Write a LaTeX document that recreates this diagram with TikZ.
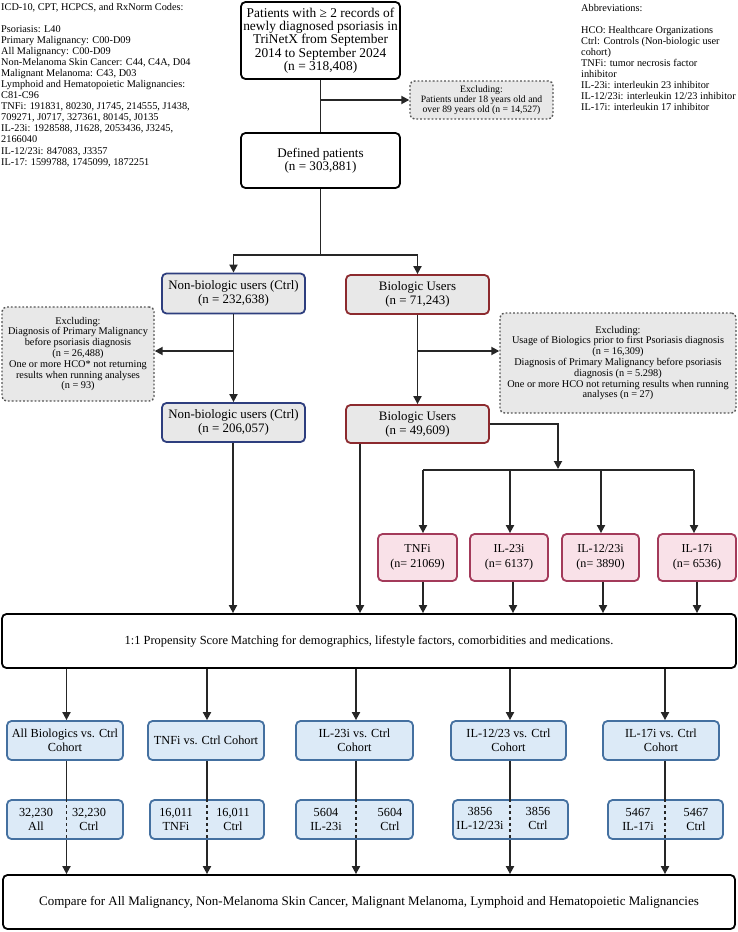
\documentclass[tikz,border=0pt]{standalone}
\usepackage{fontspec}
\setmainfont{Liberation Serif}
\usetikzlibrary{arrows.meta}

\definecolor{linec}{HTML}{262626}
\definecolor{greyfill}{HTML}{E8E8E8}
\definecolor{navyline}{HTML}{2E3E7E}
\definecolor{redline}{HTML}{8C2A2E}
\definecolor{pinkfill}{HTML}{F9E1E8}
\definecolor{pinkline}{HTML}{A33A5A}
\definecolor{bluefill}{HTML}{DCEAF7}
\definecolor{blueline}{HTML}{4470A0}
\definecolor{dotline}{HTML}{555555}

\begin{document}
\begin{tikzpicture}[x=1pt,y=-1pt,
  base/.style={rounded corners=4.5pt, align=center, inner sep=0pt, line width=1.8pt},
  blackbox/.style={base, draw=black, fill=white},
  excl/.style={base, draw=dotline, dotted, line width=1.4pt, fill=greyfill,
    font=\fontsize{10.3}{10.8}\selectfont},
  ctrlbox/.style={base, draw=navyline, fill=greyfill, font=\fontsize{12.9}{14}\selectfont},
  biobox/.style={base, draw=redline, fill=greyfill, font=\fontsize{12.9}{14}\selectfont},
  drugbox/.style={base, draw=pinkline, fill=pinkfill, font=\fontsize{12.1}{15}\selectfont},
  cohbox/.style={base, draw=blueline, fill=bluefill, font=\fontsize{12.3}{14}\selectfont},
  numtxt/.style={align=center, inner sep=0pt, font=\fontsize{12.3}{14}\selectfont},
  notes/.style={align=left, inner sep=0pt, anchor=north west, font=\fontsize{10.3}{11.05}\selectfont},
  conn/.style={draw=linec, line width=1.8pt},
  arr/.style={conn, -{Triangle[length=8pt,width=8pt]}},
  sep/.style={draw=linec, line width=1.8pt, dash pattern=on 3pt off 3pt}
]
\useasboundingbox (0,0) rectangle (738,932);

% side notes
\node[notes] (codes) at (1,3) {ICD-10, CPT, HCPCS, and RxNorm Codes:\\[11.05pt]
Psoriasis: L40\\
Primary Malignancy: C00-D09\\
All Malignancy: C00-D09\\
Non-Melanoma Skin Cancer: C44, C4A, D04\\
Malignant Melanoma: C43, D03\\
Lymphoid and Hematopoietic Malignancies:\\
C81-C96\\
TNFi: 191831, 80230, J1745, 214555, J1438,\\
709271, J0717, 327361, 80145, J0135\\
IL-23i: 1928588, J1628, 2053436, J3245,\\
2166040\\
IL-12/23i: 847083, J3357\\
IL-17: 1599788, 1745099, 1872251};

\node[notes] (abbr) at (581,4) {Abbreviations:\\[11pt]
HCO: Healthcare Organizations\\
Ctrl: Controls (Non-biologic user\\
cohort)\\
TNFi: tumor necrosis factor\\
inhibitor\\
IL-23i: interleukin 23 inhibitor\\
IL-12/23i: interleukin 12/23 inhibitor\\
IL-17i: interleukin 17 inhibitor};

% main flow
\node[blackbox, minimum width=159, minimum height=77, font=\fontsize{13.4}{13.3}\selectfont]
  (top) at (320.5,40.5) {Patients with ≥ 2 records of\\newly diagnosed psoriasis in\\TriNetX from September\\2014 to September 2024\\(n = 318,408)};
\node[excl, minimum width=143, minimum height=38, font=\fontsize{9.7}{10}\selectfont] (ex1) at (481.5,100)
  {Excluding:\\Patients under 18 years old and\\over 89 years old (n = 14,527)};
\node[blackbox, minimum width=159, minimum height=55, font=\fontsize{13.1}{13.3}\selectfont]
  (def) at (320.5,160.5) {Defined patients\\(n = 303,881)};

\node[ctrlbox, minimum width=143, minimum height=40] (nb1) at (233.5,293.5)
  {Non-biologic users (Ctrl)\\(n = 232,638)};
\node[biobox, minimum width=143, minimum height=39] (bio1) at (417.5,294.5)
  {Biologic Users\\(n = 71,243)};

\node[excl, minimum width=152, minimum height=94] (exL) at (78,354)
  {Excluding:\\Diagnosis of Primary Malignancy\\before psoriasis diagnosis\\(n = 26,488)\\One or more HCO* not returning\\results when running analyses\\(n = 93)};
\node[excl, minimum width=236, minimum height=100] (exR) at (618,363)
  {Excluding:\\Usage of Biologics prior to first Psoriasis diagnosis\\(n = 16,309)\\Diagnosis of Primary Malignancy before psoriasis\\diagnosis (n = 5.298)\\One or more HCO not returning results when running\\analyses (n = 27)};

\node[ctrlbox, minimum width=143, minimum height=39] (nb2) at (233.5,422.5)
  {Non-biologic users (Ctrl)\\(n = 206,057)};
\node[biobox, minimum width=143, minimum height=38] (bio2) at (417.5,424)
  {Biologic Users\\(n = 49,609)};

\node[drugbox, minimum width=79, minimum height=47] (tnf) at (417.5,557.5) {TNFi\\(n= 21069)};
\node[drugbox, minimum width=78, minimum height=47] (il23) at (509,557.5) {IL-23i\\(n= 6137)};
\node[drugbox, minimum width=77, minimum height=47] (il1223) at (600.5,557.5) {IL-12/23i\\(n= 3890)};
\node[drugbox, minimum width=78, minimum height=47] (il17) at (697,557.5) {IL-17i\\(n= 6536)};

\node[blackbox, minimum width=734, minimum height=54, font=\fontsize{12.4}{13}\selectfont]
  (match) at (369,641) {1:1 Propensity Score Matching for demographics, lifestyle factors, comorbidities and medications.};

% cohorts
\node[cohbox, minimum width=116, minimum height=39] (coh1) at (65,740.5) {All Biologics vs. Ctrl\\Cohort};
\node[cohbox, minimum width=116, minimum height=39] (coh2) at (206,740.5) {TNFi vs. Ctrl Cohort};
\node[cohbox, minimum width=117, minimum height=39] (coh3) at (354.5,740.5) {IL-23i vs. Ctrl\\Cohort};
\node[cohbox, minimum width=115, minimum height=39] (coh4) at (508.5,740.5) {IL-12/23 vs. Ctrl\\Cohort};
\node[cohbox, minimum width=116, minimum height=39] (coh5) at (661,740.5) {IL-17i vs. Ctrl\\Cohort};

\node[cohbox, minimum width=116, minimum height=39] (num1) at (65,819.5) {};
\node[cohbox, minimum width=114, minimum height=39] (num2) at (207,819.5) {};
\node[cohbox, minimum width=117, minimum height=39] (num3) at (354.5,819.5) {};
\node[cohbox, minimum width=115, minimum height=39] (num4) at (510.5,819.5) {};
\node[cohbox, minimum width=115, minimum height=39] (num5) at (665.5,819.5) {};

\node[numtxt] (n1a) at (36,819.5) {32,230\\All};
\node[numtxt] (n1b) at (89,819.5) {32,230\\Ctrl};
\node[numtxt] (n2a) at (176,819.5) {16,011\\TNFi};
\node[numtxt] (n2b) at (233,819.5) {16,011\\Ctrl};
\node[numtxt] (n3a) at (326,819.5) {5604\\IL-23i};
\node[numtxt] (n3b) at (390,819.5) {5604\\Ctrl};
\node[numtxt] (n4a) at (480,818.5) {3856\\IL-12/23i};
\node[numtxt] (n4b) at (538,818.5) {3856\\Ctrl};
\node[numtxt] (n5a) at (638,819.5) {5467\\IL-17i};
\node[numtxt] (n5b) at (696,819.5) {5467\\Ctrl};

\node[blackbox, minimum width=732, minimum height=54, font=\fontsize{13}{14}\selectfont]
  (fin) at (369,902) {Compare for All Malignancy, Non-Melanoma Skin Cancer, Malignant Melanoma, Lymphoid and Hematopoietic Malignancies};

% branch points
\coordinate (sp1) at (320.5,100);
\coordinate (sp2) at (320.5,255);
\coordinate (spL) at (233.5,351);
\coordinate (spR) at (417.5,351);
\coordinate (fanin) at (558,469);
\coordinate (fanL) at (423,470);
\coordinate (fanR) at (694,470);
\coordinate (xnb) at (233,0);
\coordinate (xbio) at (360,0);
\coordinate (xtnf) at (423,0);
\coordinate (x23) at (510,0);
\coordinate (x1223) at (601,0);
\coordinate (x17) at (694,0);
\coordinate (xtnfb) at (423,0);
\coordinate (x23b) at (513,0);
\coordinate (x1223b) at (603,0);
\coordinate (x17b) at (697,0);
\coordinate (c1) at (66.5,0);
\coordinate (c2) at (207,0);
\coordinate (c3) at (356,0);
\coordinate (c4) at (510,0);
\coordinate (c5) at (665,0);

% connectors
\draw[conn] (top.south) -- (def.north);
\draw[arr] (sp1) -- (ex1.west);
\draw[conn] (def.south) -- (sp2);
\draw[arr] (sp2) -| (nb1.north);
\draw[arr] (sp2) -| (bio1.north);
\draw[arr] (nb1.south) -- (nb2.north);
\draw[arr] (spL) -- (spL -| exL.east);
\draw[arr] (bio1.south) -- (bio2.north);
\draw[arr] (spR) -- (spR -| exR.west);
\draw[arr] (bio2.east) -| (fanin);
\draw[conn] (fanL) -- (fanR);
\draw[arr] (fanL) -- (tnf.north -| xtnf);
\draw[arr] (fanL -| x23) -- (il23.north -| x23);
\draw[arr] (fanL -| x1223) -- (il1223.north -| x1223);
\draw[arr] (fanR) -- (il17.north -| x17);

\draw[arr] (nb2.south -| xnb) -- (match.north -| xnb);
\draw[arr] (bio2.south -| xbio) -- (match.north -| xbio);
\draw[arr] (tnf.south -| xtnfb) -- (match.north -| xtnfb);
\draw[arr] (il23.south -| x23b) -- (match.north -| x23b);
\draw[arr] (il1223.south -| x1223b) -- (match.north -| x1223b);
\draw[arr] (il17.south -| x17b) -- (match.north -| x17b);

\foreach \i in {1,...,5}{
  \draw[arr] (match.south -| c\i) -- (coh\i.north -| c\i);
  \draw[conn] (coh\i.south -| c\i) -- (num\i.north -| c\i);
  \draw[sep] (num\i.north -| c\i) -- (num\i.south -| c\i);
  \draw[arr] (num\i.south -| c\i) -- (fin.north -| c\i);
}
\end{tikzpicture}
\end{document}
